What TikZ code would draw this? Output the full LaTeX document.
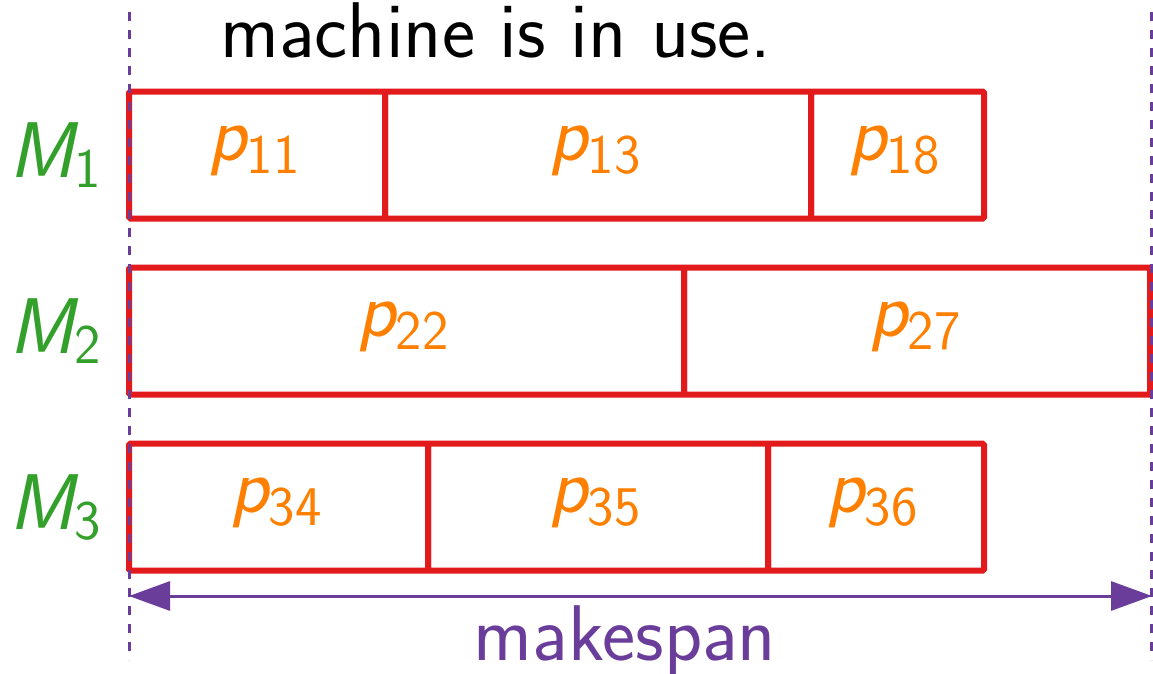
\documentclass[tikz,border=0pt]{standalone}
\usetikzlibrary{arrows.meta}
% ColorBrewer "Paired" tones
\definecolor{jobred}{HTML}{E31A1C}
\definecolor{joborange}{HTML}{FF7F00}
\definecolor{machgreen}{HTML}{33A02C}
\definecolor{spanpurple}{HTML}{6A3D9A}
\newcommand\bigfont{\fontsize{79}{84}\selectfont}
\newcommand\subfont{\fontsize{56}{60}\selectfont}
\newcommand\jobp[1]{{\itshape p}\raisebox{-13pt}{\subfont #1}}
\newcommand\machM[1]{{\itshape M}\raisebox{-10pt}{\subfont #1}}
\tikzset{
  seg/.style={draw=jobred, line width=6pt, rounded corners=1.5pt,
    minimum height=127pt, inner sep=0pt, outer sep=0pt},
  plab/.style={anchor=base, text=joborange, inner sep=0pt},
  mlab/.style={anchor=base, text=machgreen, inner sep=0pt},
  spanline/.style={draw=spanpurple, line width=3pt},
  guide/.style={spanline, dash pattern=on 9pt off 9pt},
  tipbig/.tip={Triangle[length=41pt,width=29pt]}
}
\begin{document}
\begin{tikzpicture}[x=1pt, y=-1pt, font=\sffamily\bigfont]
\useasboundingbox (0,0) rectangle (1153,673);

% heading line
\node[anchor=base, inner sep=0pt] (head) at (496,57) {machine is in use.};

% machine 1
\node[seg, minimum width=256pt] (s11) at (257,155) {};
\node[seg, minimum width=426pt] (s13) at (598,155) {};
\node[seg, minimum width=173pt] (s18) at (897.5,155) {};
% machine 2
\node[seg, minimum width=555pt] (s22) at (406.5,331) {};
\node[seg, minimum width=466pt] (s27) at (917,331) {};
% machine 3
\node[seg, minimum width=299pt] (s34) at (278.5,507) {};
\node[seg, minimum width=340pt] (s35) at (598,507) {};
\node[seg, minimum width=216pt] (s36) at (876,507) {};

% job labels
\node[plab] (l11) at (254,160) {\jobp{11}};
\node[plab] (l13) at (595,160) {\jobp{13}};
\node[plab] (l18) at (894,160) {\jobp{18}};
\node[plab] (l22) at (403,336) {\jobp{22}};
\node[plab] (l27) at (915,336) {\jobp{27}};
\node[plab] (l34) at (276,512) {\jobp{34}};
\node[plab] (l35) at (595,512) {\jobp{35}};
\node[plab] (l36) at (872,512) {\jobp{36}};

% machine labels
\node[mlab] (m1) at (55,177) {\machM{1}};
\node[mlab] (m2) at (55,353) {\machM{2}};
\node[mlab] (m3) at (55,529) {\machM{3}};

% start and end guides
\coordinate (gLt) at (129,12);
\coordinate (gLb) at (129,660);
\coordinate (gRt) at (1151.5,12);
\coordinate (gRb) at (1151.5,660);
\draw[guide] (gLt) -- (gLb);
\draw[guide] (gRt) -- (gRb);

% makespan arrow
\coordinate (aL) at (129,596);
\coordinate (aR) at (1152,596);
\draw[spanline, tipbig-tipbig] (aL) -- (aR);
\node[anchor=base, text=spanpurple, inner sep=0pt] (ms) at (625,660) {makespan};
\end{tikzpicture}
\end{document}
